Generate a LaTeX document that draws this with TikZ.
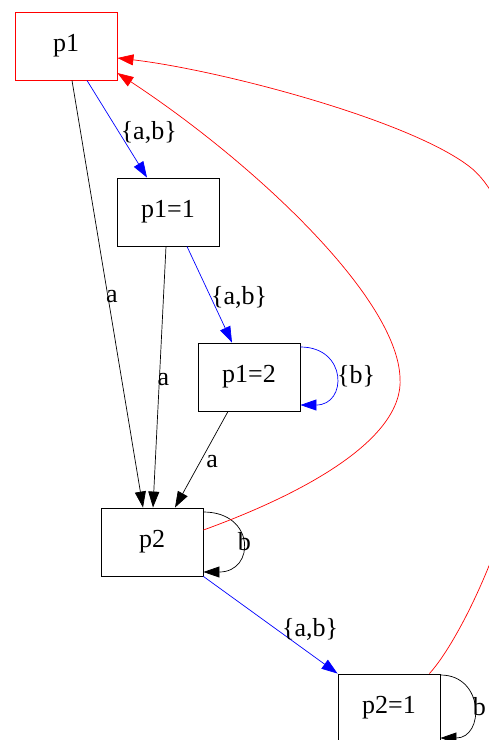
\documentclass[tikz,border=0pt]{standalone}
\usepackage{fontspec}
\setmainfont{Liberation Serif}
\usetikzlibrary{arrows.meta}
\begin{document}
\begin{tikzpicture}[x=1pt,y=-1pt,
  state/.style={draw=black, line width=0.9pt, minimum width=102pt, minimum height=68pt, inner sep=0pt, font=\fontsize{26}{30}\selectfont},
  lbl/.style={font=\fontsize{26}{30}\selectfont, inner sep=0pt},
  tiphead/.style={-{Triangle[length=16pt,width=11pt]}},
  blueedge/.style={draw=blue, line width=0.7pt, tiphead, color=blue},
  blackedge/.style={draw=black, line width=0.7pt, tiphead},
  rededge/.style={draw=red, line width=0.7pt, tiphead, color=red}
]
\useasboundingbox (0,0) rectangle (489,740);
\clip (0,0) rectangle (489,740);
\fill[white] (0,0) rectangle (489,740);

\node[state, draw=red] (p1) at (66,46) {p1};
\node[state] (p11) at (168,212) {p1=1};
\node[state] (p12) at (249,377) {p1=2};
\node[state] (p2) at (152,542) {p2};
\node[state] (p21) at (389,708) {p2=1};

% straight edges
\draw[blueedge] ([xshift=21pt]p1.south) -- node[lbl, text=black, pos=0.54, anchor=west, xshift=1pt] (l1) {\{a,b\}} ([xshift=-21pt]p11.north);
\draw[blackedge] ([xshift=6pt]p1.south) -- node[lbl, pos=0.507, xshift=4pt] (l2) {a} ([xshift=-9pt]p2.north);
\draw[blackedge] ([xshift=-2pt]p11.south) -- node[lbl, pos=0.511, xshift=4pt] (l3) {a} ([xshift=1pt]p2.north);
\draw[blueedge] ([xshift=19pt]p11.south) -- node[lbl, text=black, pos=0.526, anchor=west, xshift=0pt] (l4) {\{a,b\}} ([xshift=-17pt]p12.north);
\draw[blackedge] ([xshift=-21pt]p12.south) -- node[lbl, pos=0.526, xshift=12pt] (l5) {a} ([xshift=23pt]p2.north);
\draw[blueedge] (p2.south east) -- node[lbl, text=black, pos=0.55, xshift=33pt] (l6) {\{a,b\}} (p21.north west);

% self loops
\draw[blueedge] ([yshift=30pt]p12.east) .. controls +(47,0) and +(47,0) .. node[lbl, text=black, pos=0.5, anchor=west, xshift=1pt] (l7) {\{b\}} ([yshift=-28pt]p12.east);
\draw[blackedge] ([yshift=30pt]p2.east) .. controls +(52,0) and +(52,0) .. node[lbl, pos=0.5, xshift=2pt] (l8) {b} ([yshift=-30pt]p2.east);
\draw[blackedge] ([yshift=33pt]p21.east) .. controls +(44,0) and +(44,0) .. node[lbl, pos=0.5, anchor=west, xshift=-1pt] (l9) {b} ([yshift=-30pt]p21.east);

% red back edges
\draw[rededge] ([yshift=12pt]p2.east) .. controls (300,495) and (405,440) .. (400,377)
  .. controls (396,295) and (250,160) .. ([yshift=-27pt]p1.east);
\draw[rededge] ([xshift=-11pt]p21.north east) .. controls (462,638) and (530,500) .. (530,380)
  .. controls (530,260) and (500,190) .. (470,167)
  .. controls (410,120) and (220,70) .. ([yshift=-12pt]p1.east);
\end{tikzpicture}
\end{document}
